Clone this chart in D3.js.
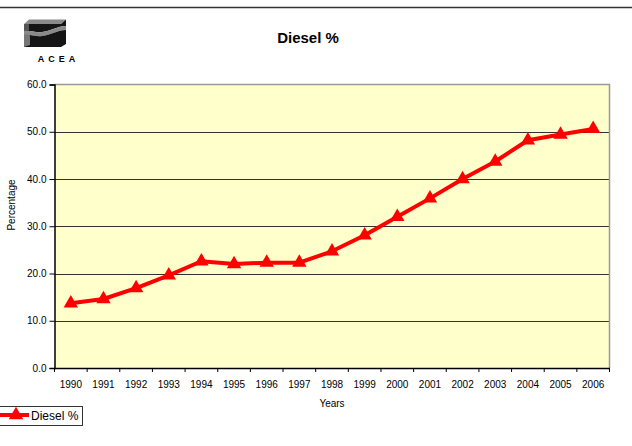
<!DOCTYPE html>
<html>
<head>
<meta charset="utf-8">
<script src="https://cdn.jsdelivr.net/npm/d3@7/dist/d3.min.js"></script>
<style>
  body { margin: 0; background: #fff; }
  text { font-family: "Liberation Sans", Arial, sans-serif; fill: #000; }
</style>
</head>
<body>
<div id="chart"></div>
<script>
var width = 632;
var height = 446;

// data
var years = ["1990", "1991", "1992", "1993", "1994", "1995", "1996", "1997", "1998",
             "1999", "2000", "2001", "2002", "2003", "2004", "2005", "2006"];
var diesel = [13.7, 14.6, 16.9, 19.6, 22.6, 22.0, 22.3, 22.3, 24.7,
              28.1, 32.0, 35.9, 40.0, 43.7, 48.2, 49.4, 50.6];
var yTicks = [0, 10, 20, 30, 40, 50, 60];

var plot = {left: 54.5, right: 609.5, top: 84.5, bottom: 368};

var svg = d3.select("#chart")
            .append("svg").attr("width", width)
            .attr("height", height);

// rule across the top
svg.append("line")
   .attr("x1", 0).attr("x2", width)
   .attr("y1", 7.5).attr("y2", 7.5)
   .attr("stroke", "#333").attr("stroke-width", 1.5);

// ACEA logo, rough shapes
var logo = svg.append("g");
logo.append("path")
    .attr("d", "M24,24 L29,19.5 L66,19.5 L61,24 Z")
    .attr("fill", "#8a8a8a");
logo.append("path")
    .attr("d", "M24,24 L61,24 L66,19.5 L66,26 C58,26 50,31 42,32 C36,33 30,30 24,31 Z")
    .attr("fill", "#151515");
logo.append("path")
    .attr("d", "M24,24 L29,24 L29,30.5 L24,31 Z")
    .attr("fill", "#555");
logo.append("path")
    .attr("d", "M24,31 C30,30 36,33 42,32 C50,31 58,26 66,26 L66,30 C58,30 50,35 42,36 C36,37 30,34 24,35 Z")
    .attr("fill", "#8a8a8a");
logo.append("path")
    .attr("d", "M24,35 C30,34 36,37 42,36 C50,35 58,30 66,30 L66,44 L61,47 L24,47 Z")
    .attr("fill", "#151515");
logo.append("path")
    .attr("d", "M24,35 C26,34.6 28,34.8 30,35.3 L30,45 L24,47 Z")
    .attr("fill", "#777");
logo.append("text")
    .attr("x", 58.5).attr("y", 62)
    .attr("text-anchor", "middle")
    .attr("font-size", 9).attr("font-weight", "bold")
    .attr("letter-spacing", 4)
    .text("ACEA");

// title
svg.append("text")
   .attr("x", 308).attr("y", 43)
   .attr("text-anchor", "middle")
   .attr("font-size", 15).attr("font-weight", "bold")
   .text("Diesel %");

var x = d3.scaleBand()
          .domain(years)
          .range([plot.left, plot.right])
          .padding(0);

var y = d3.scaleLinear()
          .domain([0, 60])
          .range([plot.bottom, plot.top]);

// plot background
svg.append("rect")
   .attr("x", plot.left).attr("y", plot.top)
   .attr("width", plot.right - plot.left)
   .attr("height", plot.bottom - plot.top)
   .attr("fill", "#ffffcc");

// grid lines
svg.selectAll("line.grid")
   .data(yTicks.slice(1, -1))
   .enter()
   .append("line")
   .attr("class", "grid")
   .attr("x1", plot.left).attr("x2", plot.right)
   .attr("y1", function (d) { return Math.round(y(d)) + 0.5; })
   .attr("y2", function (d) { return Math.round(y(d)) + 0.5; })
   .attr("stroke", "#333").attr("stroke-width", 1);

// top and right border
svg.append("path")
   .attr("d", "M" + plot.left + "," + plot.top + "H" + plot.right + "V" + plot.bottom)
   .attr("fill", "none").attr("stroke", "#999").attr("stroke-width", 1.5);

// y axis
var yAxis = d3.axisLeft(y)
              .tickValues(yTicks)
              .tickFormat(d3.format(".1f"))
              .tickSize(5)
              .tickPadding(3);
var gy = svg.append("g")
            .attr("transform", "translate(" + plot.left + ",0)")
            .call(yAxis);
gy.select(".domain").attr("stroke", "#000").attr("stroke-width", 1.5);
gy.selectAll(".tick line").attr("stroke", "#000");
gy.selectAll("text").attr("font-size", 10).attr("font-family", "Liberation Sans, Arial, sans-serif").attr("fill", "#222");

// x axis: labels centred in each band, ticks on band edges
var xAxis = d3.axisBottom(x).tickSize(0).tickPadding(13);
var gx = svg.append("g")
            .attr("transform", "translate(0," + plot.bottom + ")")
            .call(xAxis);
gx.select(".domain").attr("stroke", "#000").attr("stroke-width", 1.5);
gx.selectAll("text").attr("font-size", 10).attr("font-family", "Liberation Sans, Arial, sans-serif").attr("fill", "#222");

var edges = years.map(function (d) { return x(d); }).concat([x(years[years.length - 1]) + x.bandwidth()]);
svg.selectAll("line.xtick")
   .data(edges)
   .enter()
   .append("line")
   .attr("class", "xtick")
   .attr("x1", function (d) { return d; }).attr("x2", function (d) { return d; })
   .attr("y1", plot.bottom).attr("y2", plot.bottom + 4)
   .attr("stroke", "#000");

// axis titles
svg.append("text")
   .attr("transform", "translate(15,205) rotate(-90)")
   .attr("text-anchor", "middle")
   .attr("font-size", 10).attr("fill", "#222")
   .text("Percentage");

svg.append("text")
   .attr("x", (plot.left + plot.right) / 2).attr("y", 407)
   .attr("text-anchor", "middle")
   .attr("font-size", 10).attr("fill", "#222")
   .text("Years");

// the series
var pts = years.map(function (d, i) { return {year: d, value: diesel[i]}; });

var line = d3.line()
             .x(function (d) { return x(d.year) + x.bandwidth() / 2; })
             .y(function (d) { return y(d.value); });

svg.append("path")
   .datum(pts)
   .attr("d", line)
   .attr("fill", "none")
   .attr("stroke", "#ff0000")
   .attr("stroke-width", 4)
   .attr("stroke-linejoin", "round");

var tri = d3.symbol().type(d3.symbolTriangle).size(90);

svg.selectAll("path.marker")
   .data(pts)
   .enter()
   .append("path")
   .attr("class", "marker")
   .attr("d", tri)
   .attr("fill", "#ff0000")
   .attr("transform", function (d) {
       return "translate(" + (x(d.year) + x.bandwidth() / 2) + "," + y(d.value) + ")";
   });

// legend
var lg = svg.append("g");
lg.append("rect")
  .attr("x", -1).attr("y", 406.5)
  .attr("width", 83.5).attr("height", 19)
  .attr("fill", "#fff").attr("stroke", "#333").attr("stroke-width", 1);
lg.append("line")
  .attr("x1", 0).attr("x2", 29)
  .attr("y1", 415).attr("y2", 415)
  .attr("stroke", "#ff0000").attr("stroke-width", 4);
lg.append("path")
  .attr("d", tri)
  .attr("fill", "#ff0000")
  .attr("transform", "translate(16,415)");
lg.append("text")
  .attr("x", 31).attr("y", 420)
  .attr("font-size", 12)
  .text("Diesel %");
</script>
</body>
</html>
